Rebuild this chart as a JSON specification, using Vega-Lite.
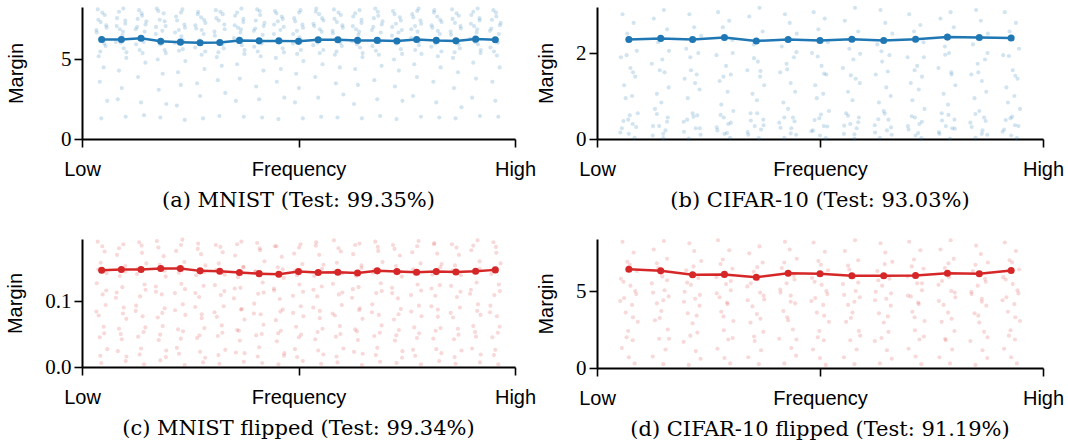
{
"$schema": "https://vega.github.io/schema/vega-lite/v6.json",
"background": "white",
"padding": 5,
"config": {
  "view": {"stroke": null},
  "axis": {"domainColor": "black", "domainWidth": 2, "tickColor": "black", "tickWidth": 1.6, "grid": false, "labelColor": "black", "titleColor": "black"},
  "axisX": {"labelFont": "Liberation Sans", "labelFontSize": 20, "tickSize": 8, "labelPadding": 12, "labelFlush": false},
  "axisY": {"labelFont": "Liberation Serif", "labelFontSize": 21, "tickSize": 8, "labelPadding": 3, "titleFont": "Liberation Sans", "titleFontSize": 20, "titleFontWeight": "normal", "titlePadding": 19},
  "title": {"orient": "bottom", "font": "DejaVu Serif", "fontSize": 21, "fontWeight": "normal", "frame": "group", "anchor": "middle", "offset": 11, "color": "black"}
},
"datasets": {
"a": [
{"x":0.8,"y":8.15},{"x":1.15,"y":7.8},{"x":0.95,"y":7.35},{"x":1.25,"y":7.0},{"x":0.75,"y":6.7},{"x":1.05,"y":6.25},{"x":1.2,"y":5.85},{"x":0.85,"y":5.2},{"x":1.1,"y":4.5},{"x":0.9,"y":3.6},{"x":1.28,"y":2.4},{"x":0.98,"y":1.3},
{"x":2.1,"y":8.2},{"x":1.78,"y":7.6},{"x":2.2,"y":7.25},{"x":1.92,"y":6.9},{"x":2.05,"y":6.5},{"x":1.72,"y":6.1},{"x":2.12,"y":5.7},{"x":2.25,"y":5.1},{"x":1.88,"y":4.3},{"x":2.02,"y":3.2},{"x":1.82,"y":2.5},{"x":2.22,"y":1.4},
{"x":2.9,"y":8.1},{"x":3.05,"y":7.75},{"x":3.27,"y":7.4},{"x":2.8,"y":7.05},{"x":3.18,"y":6.75},{"x":2.95,"y":6.3},{"x":2.75,"y":5.95},{"x":3.08,"y":5.4},{"x":3.22,"y":4.8},{"x":2.85,"y":3.9},{"x":3.0,"y":2.3},{"x":3.15,"y":1.5},
{"x":3.8,"y":8.2},{"x":4.15,"y":7.9},{"x":3.95,"y":7.5},{"x":4.25,"y":7.1},{"x":3.75,"y":6.6},{"x":4.05,"y":6.0},{"x":4.2,"y":5.6},{"x":3.85,"y":5.0},{"x":4.1,"y":4.1},{"x":3.9,"y":3.1},{"x":4.28,"y":2.2},{"x":3.98,"y":1.35},
{"x":5.1,"y":8.15},{"x":4.78,"y":7.7},{"x":5.2,"y":7.2},{"x":4.92,"y":6.85},{"x":5.05,"y":6.45},{"x":4.72,"y":6.05},{"x":5.12,"y":5.65},{"x":5.25,"y":4.9},{"x":4.88,"y":4.2},{"x":5.02,"y":3.4},{"x":4.82,"y":2.1},{"x":5.22,"y":1.2},
{"x":5.9,"y":8.0},{"x":6.05,"y":7.65},{"x":6.27,"y":7.3},{"x":5.8,"y":6.95},{"x":6.18,"y":6.6},{"x":5.95,"y":6.2},{"x":5.75,"y":5.75},{"x":6.08,"y":5.3},{"x":6.22,"y":4.4},{"x":5.85,"y":3.5},{"x":6.0,"y":2.7},{"x":6.15,"y":1.3},
{"x":6.8,"y":8.1},{"x":7.15,"y":7.85},{"x":6.95,"y":7.45},{"x":7.25,"y":6.9},{"x":6.75,"y":6.5},{"x":7.05,"y":6.15},{"x":7.2,"y":5.7},{"x":6.85,"y":5.15},{"x":7.1,"y":4.6},{"x":6.9,"y":3.7},{"x":7.28,"y":2.9},{"x":6.98,"y":1.45},
{"x":8.1,"y":8.2},{"x":7.78,"y":7.75},{"x":8.2,"y":7.35},{"x":7.92,"y":7.0},{"x":8.05,"y":6.7},{"x":7.72,"y":6.35},{"x":8.12,"y":5.9},{"x":8.25,"y":5.35},{"x":7.88,"y":4.7},{"x":8.02,"y":3.8},{"x":7.82,"y":2.4},{"x":8.22,"y":1.4},
{"x":8.9,"y":8.15},{"x":9.05,"y":7.8},{"x":9.27,"y":7.3},{"x":8.8,"y":6.95},{"x":9.18,"y":6.55},{"x":8.95,"y":6.2},{"x":8.75,"y":5.8},{"x":9.08,"y":5.2},{"x":9.22,"y":4.3},{"x":8.85,"y":3.3},{"x":9.0,"y":2.5},{"x":9.15,"y":1.35},
{"x":9.8,"y":8.05},{"x":10.15,"y":7.7},{"x":9.95,"y":7.4},{"x":10.25,"y":7.05},{"x":9.75,"y":6.6},{"x":10.05,"y":6.1},{"x":10.2,"y":5.7},{"x":9.85,"y":5.1},{"x":10.1,"y":4.4},{"x":9.9,"y":3.6},{"x":10.28,"y":2.6},{"x":9.98,"y":1.25},
{"x":11.1,"y":8.1},{"x":10.78,"y":7.6},{"x":11.2,"y":7.2},{"x":10.92,"y":6.8},{"x":11.05,"y":6.4},{"x":10.72,"y":6.0},{"x":11.12,"y":5.6},{"x":11.25,"y":4.9},{"x":10.88,"y":4.1},{"x":11.02,"y":3.2},{"x":10.82,"y":2.3},{"x":11.22,"y":1.3},
{"x":11.9,"y":8.2},{"x":12.05,"y":7.85},{"x":12.27,"y":7.45},{"x":11.8,"y":7.1},{"x":12.18,"y":6.75},{"x":11.95,"y":6.3},{"x":11.75,"y":5.9},{"x":12.08,"y":5.4},{"x":12.22,"y":4.7},{"x":11.85,"y":3.9},{"x":12.0,"y":2.6},{"x":12.15,"y":1.4},
{"x":12.8,"y":8.15},{"x":13.15,"y":7.8},{"x":12.95,"y":7.35},{"x":13.25,"y":7.0},{"x":12.75,"y":6.65},{"x":13.05,"y":6.25},{"x":13.2,"y":5.85},{"x":12.85,"y":5.3},{"x":13.1,"y":4.5},{"x":12.9,"y":3.5},{"x":13.28,"y":2.8},{"x":12.98,"y":1.35},
{"x":14.1,"y":8.1},{"x":13.78,"y":7.7},{"x":14.2,"y":7.3},{"x":13.92,"y":6.9},{"x":14.05,"y":6.55},{"x":13.72,"y":6.15},{"x":14.12,"y":5.75},{"x":14.25,"y":5.15},{"x":13.88,"y":4.4},{"x":14.02,"y":3.4},{"x":13.82,"y":2.2},{"x":14.22,"y":1.3},
{"x":14.9,"y":8.2},{"x":15.05,"y":7.75},{"x":15.27,"y":7.4},{"x":14.8,"y":7.05},{"x":15.18,"y":6.7},{"x":14.95,"y":6.3},{"x":14.75,"y":5.85},{"x":15.08,"y":5.3},{"x":15.22,"y":4.6},{"x":14.85,"y":3.7},{"x":15.0,"y":2.5},{"x":15.15,"y":1.45},
{"x":15.8,"y":8.05},{"x":16.15,"y":7.65},{"x":15.95,"y":7.25},{"x":16.25,"y":6.85},{"x":15.75,"y":6.5},{"x":16.05,"y":6.1},{"x":16.2,"y":5.65},{"x":15.85,"y":5.0},{"x":16.1,"y":4.3},{"x":15.9,"y":3.3},{"x":16.28,"y":2.4},{"x":15.98,"y":1.25},
{"x":17.1,"y":8.2},{"x":16.78,"y":7.85},{"x":17.2,"y":7.45},{"x":16.92,"y":7.1},{"x":17.05,"y":6.75},{"x":16.72,"y":6.35},{"x":17.12,"y":5.9},{"x":17.25,"y":5.35},{"x":16.88,"y":4.7},{"x":17.02,"y":3.9},{"x":16.82,"y":2.7},{"x":17.22,"y":1.4},
{"x":17.9,"y":8.1},{"x":18.05,"y":7.7},{"x":18.27,"y":7.35},{"x":17.8,"y":7.0},{"x":18.18,"y":6.6},{"x":17.95,"y":6.2},{"x":17.75,"y":5.8},{"x":18.08,"y":5.2},{"x":18.22,"y":4.5},{"x":17.85,"y":3.6},{"x":18.0,"y":2.3},{"x":18.15,"y":1.35},
{"x":18.8,"y":8.15},{"x":19.15,"y":7.75},{"x":18.95,"y":7.3},{"x":19.25,"y":6.95},{"x":18.75,"y":6.55},{"x":19.05,"y":6.15},{"x":19.2,"y":5.7},{"x":18.85,"y":5.1},{"x":19.1,"y":4.2},{"x":18.9,"y":3.2},{"x":19.28,"y":2.0},{"x":18.98,"y":1.3},
{"x":20.1,"y":8.2},{"x":19.78,"y":7.8},{"x":20.2,"y":7.45},{"x":19.92,"y":7.1},{"x":20.05,"y":6.7},{"x":19.72,"y":6.3},{"x":20.12,"y":5.95},{"x":20.25,"y":5.4},{"x":19.88,"y":4.8},{"x":20.02,"y":3.8},{"x":19.82,"y":2.6},{"x":20.22,"y":1.45},
{"x":20.9,"y":8.1},{"x":21.05,"y":7.7},{"x":21.27,"y":7.3},{"x":20.8,"y":6.95},{"x":21.18,"y":6.6},{"x":20.95,"y":6.2},{"x":20.75,"y":5.75},{"x":21.08,"y":5.25},{"x":21.22,"y":4.5},{"x":20.85,"y":3.6},{"x":21.0,"y":2.4},{"x":21.15,"y":1.4},
{"x":1.03,"y":7.95},{"x":0.83,"y":7.5},{"x":1.23,"y":7.15},{"x":0.73,"y":6.85},{"x":1.13,"y":6.0},{"x":0.93,"y":5.5},
{"x":1.88,"y":8.0},{"x":2.2,"y":7.45},{"x":1.76,"y":7.1},{"x":2.08,"y":6.75},{"x":1.97,"y":6.05},{"x":2.26,"y":5.45},
{"x":3.03,"y":7.9},{"x":2.83,"y":7.55},{"x":3.23,"y":7.2},{"x":2.73,"y":6.9},{"x":3.13,"y":6.1},{"x":2.93,"y":5.6},
{"x":3.88,"y":8.05},{"x":4.2,"y":7.4},{"x":3.76,"y":7.05},{"x":4.08,"y":6.8},{"x":3.97,"y":5.95},{"x":4.26,"y":5.4},
{"x":5.03,"y":7.95},{"x":4.83,"y":7.45},{"x":5.23,"y":7.0},{"x":4.73,"y":6.7},{"x":5.13,"y":6.2},{"x":4.93,"y":5.55},
{"x":5.88,"y":7.85},{"x":6.2,"y":7.5},{"x":5.76,"y":7.15},{"x":6.08,"y":6.85},{"x":5.97,"y":6.05},{"x":6.26,"y":5.5},
{"x":7.03,"y":8.0},{"x":6.83,"y":7.6},{"x":7.23,"y":7.2},{"x":6.73,"y":6.75},{"x":7.13,"y":5.95},{"x":6.93,"y":5.45},
{"x":7.88,"y":7.95},{"x":8.2,"y":7.55},{"x":7.76,"y":7.15},{"x":8.08,"y":6.9},{"x":7.97,"y":6.1},{"x":8.26,"y":5.6},
{"x":9.03,"y":8.05},{"x":8.83,"y":7.45},{"x":9.23,"y":7.1},{"x":8.73,"y":6.8},{"x":9.13,"y":6.0},{"x":8.93,"y":5.5},
{"x":9.88,"y":7.9},{"x":10.2,"y":7.55},{"x":9.76,"y":7.2},{"x":10.08,"y":6.85},{"x":9.97,"y":6.15},{"x":10.26,"y":5.45},
{"x":11.03,"y":7.95},{"x":10.83,"y":7.4},{"x":11.23,"y":7.0},{"x":10.73,"y":6.6},{"x":11.13,"y":6.2},{"x":10.93,"y":5.35},
{"x":11.88,"y":8.0},{"x":12.2,"y":7.6},{"x":11.76,"y":7.25},{"x":12.08,"y":6.9},{"x":11.97,"y":6.05},{"x":12.26,"y":5.6},
{"x":13.03,"y":7.95},{"x":12.83,"y":7.55},{"x":13.23,"y":7.15},{"x":12.73,"y":6.8},{"x":13.13,"y":6.05},{"x":12.93,"y":5.5},
{"x":13.88,"y":7.9},{"x":14.2,"y":7.5},{"x":13.76,"y":7.1},{"x":14.08,"y":6.75},{"x":13.97,"y":5.95},{"x":14.26,"y":5.4},
{"x":15.03,"y":8.0},{"x":14.83,"y":7.6},{"x":15.23,"y":7.2},{"x":14.73,"y":6.85},{"x":15.13,"y":6.1},{"x":14.93,"y":5.55},
{"x":15.88,"y":7.85},{"x":16.2,"y":7.45},{"x":15.76,"y":7.05},{"x":16.08,"y":6.7},{"x":15.97,"y":6.0},{"x":16.26,"y":5.35},
{"x":17.03,"y":8.05},{"x":16.83,"y":7.65},{"x":17.23,"y":7.25},{"x":16.73,"y":6.9},{"x":17.13,"y":6.15},{"x":16.93,"y":5.6},
{"x":17.88,"y":7.95},{"x":18.2,"y":7.5},{"x":17.76,"y":7.15},{"x":18.08,"y":6.8},{"x":17.97,"y":6.0},{"x":18.26,"y":5.5},
{"x":19.03,"y":7.9},{"x":18.83,"y":7.55},{"x":19.23,"y":7.1},{"x":18.73,"y":6.75},{"x":19.13,"y":5.95},{"x":18.93,"y":5.45},
{"x":19.88,"y":8.0},{"x":20.2,"y":7.6},{"x":19.76,"y":7.25},{"x":20.08,"y":6.9},{"x":19.97,"y":6.1},{"x":20.26,"y":5.6},
{"x":21.03,"y":7.95},{"x":20.83,"y":7.5},{"x":21.23,"y":7.15},{"x":20.73,"y":6.8},{"x":21.13,"y":6.05},{"x":20.93,"y":5.5}
],
"b": [
{"x":0.8,"y":2.9},{"x":1.15,"y":2.7},{"x":0.95,"y":2.45},{"x":1.25,"y":2.05},{"x":0.75,"y":1.9},{"x":1.05,"y":1.65},{"x":1.2,"y":1.45},{"x":0.85,"y":1.25},{"x":1.1,"y":1.0},{"x":0.9,"y":0.95},{"x":1.28,"y":0.6},{"x":0.98,"y":0.45},{"x":1.12,"y":0.35},{"x":0.78,"y":0.25},{"x":1.0,"y":0.12},{"x":1.18,"y":0.03},
{"x":2.1,"y":3.0},{"x":1.78,"y":2.8},{"x":2.2,"y":2.55},{"x":1.92,"y":2.25},{"x":2.05,"y":1.85},{"x":1.72,"y":1.75},{"x":2.12,"y":1.55},{"x":2.25,"y":1.2},{"x":1.88,"y":1.05},{"x":2.02,"y":0.85},{"x":1.82,"y":0.7},{"x":2.22,"y":0.5},{"x":1.95,"y":0.3},{"x":2.15,"y":0.2},{"x":1.75,"y":0.08},{"x":2.08,"y":0.02},
{"x":2.9,"y":2.9},{"x":3.05,"y":2.6},{"x":3.27,"y":2.4},{"x":2.8,"y":2.1},{"x":3.18,"y":2.0},{"x":2.95,"y":1.6},{"x":2.75,"y":1.4},{"x":3.08,"y":1.3},{"x":3.22,"y":1.15},{"x":2.85,"y":0.95},{"x":3.0,"y":0.6},{"x":3.15,"y":0.55},{"x":2.72,"y":0.4},{"x":3.1,"y":0.25},{"x":3.25,"y":0.1},{"x":2.88,"y":0.01},
{"x":3.8,"y":2.95},{"x":4.15,"y":2.75},{"x":3.95,"y":2.6},{"x":4.25,"y":2.3},{"x":3.75,"y":1.95},{"x":4.05,"y":1.7},{"x":4.2,"y":1.5},{"x":3.85,"y":1.35},{"x":4.1,"y":1.1},{"x":3.9,"y":0.8},{"x":4.28,"y":0.65},{"x":3.98,"y":0.5},{"x":4.12,"y":0.35},{"x":3.78,"y":0.2},{"x":4.0,"y":0.12},{"x":4.18,"y":0.03},
{"x":5.1,"y":3.05},{"x":4.78,"y":2.85},{"x":5.2,"y":2.5},{"x":4.92,"y":2.2},{"x":5.05,"y":1.8},{"x":4.72,"y":1.6},{"x":5.12,"y":1.45},{"x":5.25,"y":1.25},{"x":4.88,"y":1.05},{"x":5.02,"y":0.9},{"x":4.82,"y":0.6},{"x":5.22,"y":0.45},{"x":4.95,"y":0.3},{"x":5.15,"y":0.22},{"x":4.75,"y":0.1},{"x":5.08,"y":0.02},
{"x":5.9,"y":2.9},{"x":6.05,"y":2.7},{"x":6.27,"y":2.45},{"x":5.8,"y":2.15},{"x":6.18,"y":1.9},{"x":5.95,"y":1.75},{"x":5.75,"y":1.55},{"x":6.08,"y":1.3},{"x":6.22,"y":1.1},{"x":5.85,"y":0.85},{"x":6.0,"y":0.7},{"x":6.15,"y":0.5},{"x":5.72,"y":0.38},{"x":6.1,"y":0.25},{"x":6.25,"y":0.1},{"x":5.88,"y":0.03},
{"x":6.8,"y":2.95},{"x":7.15,"y":2.8},{"x":6.95,"y":2.55},{"x":7.25,"y":2.25},{"x":6.75,"y":2.0},{"x":7.05,"y":1.7},{"x":7.2,"y":1.5},{"x":6.85,"y":1.25},{"x":7.1,"y":1.05},{"x":6.9,"y":0.95},{"x":7.28,"y":0.65},{"x":6.98,"y":0.48},{"x":7.12,"y":0.3},{"x":6.78,"y":0.2},{"x":7.0,"y":0.08},{"x":7.18,"y":0.02},
{"x":8.1,"y":3.05},{"x":7.78,"y":2.75},{"x":8.2,"y":2.5},{"x":7.92,"y":2.1},{"x":8.05,"y":1.85},{"x":7.72,"y":1.65},{"x":8.12,"y":1.4},{"x":8.25,"y":1.3},{"x":7.88,"y":1.1},{"x":8.02,"y":0.9},{"x":7.82,"y":0.6},{"x":8.22,"y":0.5},{"x":7.95,"y":0.35},{"x":8.15,"y":0.25},{"x":7.75,"y":0.12},{"x":8.08,"y":0.01},
{"x":8.9,"y":3.0},{"x":9.05,"y":2.7},{"x":9.27,"y":2.45},{"x":8.8,"y":2.2},{"x":9.18,"y":1.95},{"x":8.95,"y":1.8},{"x":8.75,"y":1.5},{"x":9.08,"y":1.2},{"x":9.22,"y":1.0},{"x":8.85,"y":0.85},{"x":9.0,"y":0.65},{"x":9.15,"y":0.45},{"x":8.72,"y":0.32},{"x":9.1,"y":0.2},{"x":9.25,"y":0.1},{"x":8.88,"y":0.03},
{"x":9.8,"y":2.9},{"x":10.15,"y":2.65},{"x":9.95,"y":2.5},{"x":10.25,"y":2.25},{"x":9.75,"y":1.9},{"x":10.05,"y":1.7},{"x":10.2,"y":1.45},{"x":9.85,"y":1.3},{"x":10.1,"y":1.15},{"x":9.9,"y":0.9},{"x":10.28,"y":0.7},{"x":9.98,"y":0.5},{"x":10.12,"y":0.35},{"x":9.78,"y":0.22},{"x":10.0,"y":0.08},{"x":10.18,"y":0.02},
{"x":11.1,"y":2.95},{"x":10.78,"y":2.8},{"x":11.2,"y":2.6},{"x":10.92,"y":2.15},{"x":11.05,"y":2.0},{"x":10.72,"y":1.65},{"x":11.12,"y":1.55},{"x":11.25,"y":1.25},{"x":10.88,"y":1.05},{"x":11.02,"y":0.8},{"x":10.82,"y":0.6},{"x":11.22,"y":0.45},{"x":10.95,"y":0.3},{"x":11.15,"y":0.25},{"x":10.75,"y":0.12},{"x":11.08,"y":0.01},
{"x":11.9,"y":3.0},{"x":12.05,"y":2.75},{"x":12.27,"y":2.45},{"x":11.8,"y":2.2},{"x":12.18,"y":1.85},{"x":11.95,"y":1.75},{"x":11.75,"y":1.5},{"x":12.08,"y":1.35},{"x":12.22,"y":1.1},{"x":11.85,"y":0.95},{"x":12.0,"y":0.65},{"x":12.15,"y":0.5},{"x":11.72,"y":0.38},{"x":12.1,"y":0.2},{"x":12.25,"y":0.1},{"x":11.88,"y":0.03},
{"x":12.8,"y":2.95},{"x":13.15,"y":2.7},{"x":12.95,"y":2.5},{"x":13.25,"y":2.1},{"x":12.75,"y":1.95},{"x":13.05,"y":1.6},{"x":13.2,"y":1.4},{"x":12.85,"y":1.2},{"x":13.1,"y":1.0},{"x":12.9,"y":0.85},{"x":13.28,"y":0.7},{"x":12.98,"y":0.48},{"x":13.12,"y":0.32},{"x":12.78,"y":0.22},{"x":13.0,"y":0.08},{"x":13.18,"y":0.02},
{"x":1.03,"y":0.55},{"x":0.83,"y":0.42},{"x":1.23,"y":0.28},{"x":0.73,"y":0.15},{"x":1.13,"y":1.55},{"x":0.93,"y":1.95},
{"x":1.88,"y":0.58},{"x":2.2,"y":0.4},{"x":1.76,"y":0.3},{"x":2.08,"y":0.12},{"x":1.97,"y":1.6},{"x":2.26,"y":2.05},
{"x":3.03,"y":0.52},{"x":2.83,"y":0.45},{"x":3.23,"y":0.25},{"x":2.73,"y":0.17},{"x":3.13,"y":1.5},{"x":2.93,"y":1.9},
{"x":3.88,"y":0.56},{"x":4.2,"y":0.38},{"x":3.76,"y":0.27},{"x":4.08,"y":0.14},{"x":3.97,"y":1.45},{"x":4.26,"y":2.0},
{"x":5.03,"y":0.6},{"x":4.83,"y":0.43},{"x":5.23,"y":0.32},{"x":4.73,"y":0.16},{"x":5.13,"y":1.58},{"x":4.93,"y":1.88},
{"x":5.88,"y":0.5},{"x":6.2,"y":0.41},{"x":5.76,"y":0.26},{"x":6.08,"y":0.13},{"x":5.97,"y":1.62},{"x":6.26,"y":2.02},
{"x":7.03,"y":0.57},{"x":6.83,"y":0.44},{"x":7.23,"y":0.29},{"x":6.73,"y":0.18},{"x":7.13,"y":1.52},{"x":6.93,"y":1.92},
{"x":7.88,"y":0.54},{"x":8.2,"y":0.39},{"x":7.76,"y":0.31},{"x":8.08,"y":0.11},{"x":7.97,"y":1.48},{"x":8.26,"y":1.98},
{"x":9.03,"y":0.59},{"x":8.83,"y":0.46},{"x":9.23,"y":0.27},{"x":8.73,"y":0.15},{"x":9.13,"y":1.57},{"x":8.93,"y":2.04},
{"x":9.88,"y":0.53},{"x":10.2,"y":0.4},{"x":9.76,"y":0.3},{"x":10.08,"y":0.14},{"x":9.97,"y":1.6},{"x":10.26,"y":1.9},
{"x":11.03,"y":0.56},{"x":10.83,"y":0.43},{"x":11.23,"y":0.24},{"x":10.73,"y":0.16},{"x":11.13,"y":1.5},{"x":10.93,"y":1.96},
{"x":11.88,"y":0.58},{"x":12.2,"y":0.42},{"x":11.76,"y":0.28},{"x":12.08,"y":0.12},{"x":11.97,"y":1.55},{"x":12.26,"y":2.0},
{"x":13.03,"y":0.52},{"x":12.83,"y":0.44},{"x":13.23,"y":0.3},{"x":12.73,"y":0.17},{"x":13.13,"y":1.47},{"x":12.93,"y":1.93}
],
"c": [
{"x":0.8,"y":0.19},{"x":1.15,"y":0.175},{"x":0.95,"y":0.158},{"x":1.25,"y":0.142},{"x":0.75,"y":0.127},{"x":1.05,"y":0.11},{"x":1.2,"y":0.094},{"x":0.85,"y":0.078},{"x":1.1,"y":0.061},{"x":0.9,"y":0.045},{"x":1.28,"y":0.027},{"x":0.98,"y":0.006},
{"x":2.1,"y":0.186},{"x":1.78,"y":0.17},{"x":2.2,"y":0.153},{"x":1.92,"y":0.138},{"x":2.05,"y":0.121},{"x":1.72,"y":0.105},{"x":2.12,"y":0.09},{"x":2.25,"y":0.073},{"x":1.88,"y":0.058},{"x":2.02,"y":0.042},{"x":1.82,"y":0.024},{"x":2.22,"y":0.009},
{"x":2.9,"y":0.189},{"x":3.05,"y":0.173},{"x":3.27,"y":0.157},{"x":2.8,"y":0.141},{"x":3.18,"y":0.125},{"x":2.95,"y":0.107},{"x":2.75,"y":0.093},{"x":3.08,"y":0.077},{"x":3.22,"y":0.06},{"x":2.85,"y":0.046},{"x":3.0,"y":0.028},{"x":3.15,"y":0.004},
{"x":3.8,"y":0.191},{"x":4.15,"y":0.168},{"x":3.95,"y":0.155},{"x":4.25,"y":0.137},{"x":3.75,"y":0.122},{"x":4.05,"y":0.11},{"x":4.2,"y":0.089},{"x":3.85,"y":0.075},{"x":4.1,"y":0.062},{"x":3.9,"y":0.041},{"x":4.28,"y":0.025},{"x":3.98,"y":0.01},
{"x":5.1,"y":0.193},{"x":4.78,"y":0.176},{"x":5.2,"y":0.159},{"x":4.92,"y":0.143},{"x":5.05,"y":0.126},{"x":4.72,"y":0.112},{"x":5.12,"y":0.095},{"x":5.25,"y":0.079},{"x":4.88,"y":0.057},{"x":5.02,"y":0.043},{"x":4.82,"y":0.029},{"x":5.22,"y":0.003},
{"x":5.9,"y":0.187},{"x":6.05,"y":0.171},{"x":6.27,"y":0.154},{"x":5.8,"y":0.139},{"x":6.18,"y":0.123},{"x":5.95,"y":0.106},{"x":5.75,"y":0.091},{"x":6.08,"y":0.074},{"x":6.22,"y":0.059},{"x":5.85,"y":0.044},{"x":6.0,"y":0.023},{"x":6.15,"y":0.007},
{"x":6.8,"y":0.185},{"x":7.15,"y":0.174},{"x":6.95,"y":0.157},{"x":7.25,"y":0.14},{"x":6.75,"y":0.124},{"x":7.05,"y":0.109},{"x":7.2,"y":0.092},{"x":6.85,"y":0.076},{"x":7.1,"y":0.063},{"x":6.9,"y":0.047},{"x":7.28,"y":0.026},{"x":6.98,"y":0.005},
{"x":8.1,"y":0.19},{"x":7.78,"y":0.169},{"x":8.2,"y":0.152},{"x":7.92,"y":0.136},{"x":8.05,"y":0.12},{"x":7.72,"y":0.104},{"x":8.12,"y":0.088},{"x":8.25,"y":0.072},{"x":7.88,"y":0.056},{"x":8.02,"y":0.04},{"x":7.82,"y":0.022},{"x":8.22,"y":0.008},
{"x":8.9,"y":0.188},{"x":9.05,"y":0.177},{"x":9.27,"y":0.16},{"x":8.8,"y":0.144},{"x":9.18,"y":0.128},{"x":8.95,"y":0.111},{"x":8.75,"y":0.096},{"x":9.08,"y":0.08},{"x":9.22,"y":0.064},{"x":8.85,"y":0.048},{"x":9.0,"y":0.03},{"x":9.15,"y":0.006},
{"x":9.8,"y":0.183},{"x":10.15,"y":0.167},{"x":9.95,"y":0.151},{"x":10.25,"y":0.135},{"x":9.75,"y":0.119},{"x":10.05,"y":0.103},{"x":10.2,"y":0.087},{"x":9.85,"y":0.071},{"x":10.1,"y":0.055},{"x":9.9,"y":0.039},{"x":10.28,"y":0.021},{"x":9.98,"y":0.004},
{"x":11.1,"y":0.186},{"x":10.78,"y":0.172},{"x":11.2,"y":0.156},{"x":10.92,"y":0.139},{"x":11.05,"y":0.125},{"x":10.72,"y":0.108},{"x":11.12,"y":0.092},{"x":11.25,"y":0.077},{"x":10.88,"y":0.061},{"x":11.02,"y":0.045},{"x":10.82,"y":0.027},{"x":11.22,"y":0.009},
{"x":11.9,"y":0.189},{"x":12.05,"y":0.17},{"x":12.27,"y":0.155},{"x":11.8,"y":0.138},{"x":12.18,"y":0.122},{"x":11.95,"y":0.107},{"x":11.75,"y":0.09},{"x":12.08,"y":0.074},{"x":12.22,"y":0.058},{"x":11.85,"y":0.042},{"x":12.0,"y":0.025},{"x":12.15,"y":0.005},
{"x":12.8,"y":0.192},{"x":13.15,"y":0.175},{"x":12.95,"y":0.158},{"x":13.25,"y":0.142},{"x":12.75,"y":0.126},{"x":13.05,"y":0.11},{"x":13.2,"y":0.094},{"x":12.85,"y":0.078},{"x":13.1,"y":0.062},{"x":12.9,"y":0.046},{"x":13.28,"y":0.028},{"x":12.98,"y":0.007},
{"x":14.1,"y":0.187},{"x":13.78,"y":0.171},{"x":14.2,"y":0.154},{"x":13.92,"y":0.138},{"x":14.05,"y":0.121},{"x":13.72,"y":0.105},{"x":14.12,"y":0.089},{"x":14.25,"y":0.073},{"x":13.88,"y":0.057},{"x":14.02,"y":0.041},{"x":13.82,"y":0.023},{"x":14.22,"y":0.003},
{"x":14.9,"y":0.19},{"x":15.05,"y":0.176},{"x":15.27,"y":0.159},{"x":14.8,"y":0.143},{"x":15.18,"y":0.127},{"x":14.95,"y":0.112},{"x":14.75,"y":0.095},{"x":15.08,"y":0.079},{"x":15.22,"y":0.063},{"x":14.85,"y":0.047},{"x":15.0,"y":0.029},{"x":15.15,"y":0.008},
{"x":15.8,"y":0.185},{"x":16.15,"y":0.169},{"x":15.95,"y":0.153},{"x":16.25,"y":0.137},{"x":15.75,"y":0.12},{"x":16.05,"y":0.104},{"x":16.2,"y":0.088},{"x":15.85,"y":0.072},{"x":16.1,"y":0.056},{"x":15.9,"y":0.04},{"x":16.28,"y":0.024},{"x":15.98,"y":0.006},
{"x":17.1,"y":0.191},{"x":16.78,"y":0.174},{"x":17.2,"y":0.157},{"x":16.92,"y":0.141},{"x":17.05,"y":0.125},{"x":16.72,"y":0.109},{"x":17.12,"y":0.093},{"x":17.25,"y":0.077},{"x":16.88,"y":0.06},{"x":17.02,"y":0.044},{"x":16.82,"y":0.026},{"x":17.22,"y":0.004},
{"x":17.9,"y":0.188},{"x":18.05,"y":0.172},{"x":18.27,"y":0.156},{"x":17.8,"y":0.14},{"x":18.18,"y":0.124},{"x":17.95,"y":0.108},{"x":17.75,"y":0.092},{"x":18.08,"y":0.076},{"x":18.22,"y":0.059},{"x":17.85,"y":0.043},{"x":18.0,"y":0.027},{"x":18.15,"y":0.009},
{"x":18.8,"y":0.186},{"x":19.15,"y":0.17},{"x":18.95,"y":0.154},{"x":19.25,"y":0.139},{"x":18.75,"y":0.123},{"x":19.05,"y":0.106},{"x":19.2,"y":0.09},{"x":18.85,"y":0.075},{"x":19.1,"y":0.058},{"x":18.9,"y":0.042},{"x":19.28,"y":0.025},{"x":18.98,"y":0.005},
{"x":20.1,"y":0.192},{"x":19.78,"y":0.177},{"x":20.2,"y":0.16},{"x":19.92,"y":0.144},{"x":20.05,"y":0.128},{"x":19.72,"y":0.111},{"x":20.12,"y":0.095},{"x":20.25,"y":0.079},{"x":19.88,"y":0.062},{"x":20.02,"y":0.046},{"x":19.82,"y":0.028},{"x":20.22,"y":0.007},
{"x":20.9,"y":0.189},{"x":21.05,"y":0.173},{"x":21.27,"y":0.157},{"x":20.8,"y":0.141},{"x":21.18,"y":0.125},{"x":20.95,"y":0.109},{"x":20.75,"y":0.093},{"x":21.08,"y":0.077},{"x":21.22,"y":0.061},{"x":20.85,"y":0.045},{"x":21.0,"y":0.026},{"x":21.15,"y":0.004},
{"x":1.03,"y":0.183},{"x":0.83,"y":0.148},{"x":1.23,"y":0.116},{"x":0.73,"y":0.084},{"x":1.13,"y":0.051},{"x":0.93,"y":0.017},
{"x":1.88,"y":0.18},{"x":2.2,"y":0.145},{"x":1.76,"y":0.113},{"x":2.08,"y":0.081},{"x":1.97,"y":0.05},{"x":2.26,"y":0.016},
{"x":3.03,"y":0.184},{"x":2.83,"y":0.149},{"x":3.23,"y":0.117},{"x":2.73,"y":0.085},{"x":3.13,"y":0.053},{"x":2.93,"y":0.019},
{"x":3.88,"y":0.181},{"x":4.2,"y":0.146},{"x":3.76,"y":0.114},{"x":4.08,"y":0.082},{"x":3.97,"y":0.049},{"x":4.26,"y":0.015},
{"x":5.03,"y":0.185},{"x":4.83,"y":0.15},{"x":5.23,"y":0.118},{"x":4.73,"y":0.086},{"x":5.13,"y":0.054},{"x":4.93,"y":0.02},
{"x":5.88,"y":0.179},{"x":6.2,"y":0.144},{"x":5.76,"y":0.112},{"x":6.08,"y":0.08},{"x":5.97,"y":0.048},{"x":6.26,"y":0.014},
{"x":7.03,"y":0.182},{"x":6.83,"y":0.147},{"x":7.23,"y":0.115},{"x":6.73,"y":0.083},{"x":7.13,"y":0.052},{"x":6.93,"y":0.018},
{"x":7.88,"y":0.186},{"x":8.2,"y":0.151},{"x":7.76,"y":0.119},{"x":8.08,"y":0.087},{"x":7.97,"y":0.055},{"x":8.26,"y":0.021},
{"x":9.03,"y":0.18},{"x":8.83,"y":0.145},{"x":9.23,"y":0.113},{"x":8.73,"y":0.081},{"x":9.13,"y":0.05},{"x":8.93,"y":0.016},
{"x":9.88,"y":0.183},{"x":10.2,"y":0.148},{"x":9.76,"y":0.116},{"x":10.08,"y":0.084},{"x":9.97,"y":0.051},{"x":10.26,"y":0.017},
{"x":11.03,"y":0.181},{"x":10.83,"y":0.146},{"x":11.23,"y":0.114},{"x":10.73,"y":0.082},{"x":11.13,"y":0.049},{"x":10.93,"y":0.015},
{"x":11.88,"y":0.184},{"x":12.2,"y":0.149},{"x":11.76,"y":0.117},{"x":12.08,"y":0.085},{"x":11.97,"y":0.053},{"x":12.26,"y":0.019},
{"x":13.03,"y":0.18},{"x":12.83,"y":0.145},{"x":13.23,"y":0.113},{"x":12.73,"y":0.081},{"x":13.13,"y":0.05},{"x":12.93,"y":0.016},
{"x":13.88,"y":0.185},{"x":14.2,"y":0.15},{"x":13.76,"y":0.118},{"x":14.08,"y":0.086},{"x":13.97,"y":0.054},{"x":14.26,"y":0.02},
{"x":15.03,"y":0.182},{"x":14.83,"y":0.147},{"x":15.23,"y":0.115},{"x":14.73,"y":0.083},{"x":15.13,"y":0.052},{"x":14.93,"y":0.018},
{"x":15.88,"y":0.179},{"x":16.2,"y":0.144},{"x":15.76,"y":0.112},{"x":16.08,"y":0.08},{"x":15.97,"y":0.048},{"x":16.26,"y":0.014},
{"x":17.03,"y":0.183},{"x":16.83,"y":0.148},{"x":17.23,"y":0.116},{"x":16.73,"y":0.084},{"x":17.13,"y":0.051},{"x":16.93,"y":0.017},
{"x":17.88,"y":0.186},{"x":18.2,"y":0.151},{"x":17.76,"y":0.119},{"x":18.08,"y":0.087},{"x":17.97,"y":0.055},{"x":18.26,"y":0.021},
{"x":19.03,"y":0.181},{"x":18.83,"y":0.146},{"x":19.23,"y":0.114},{"x":18.73,"y":0.082},{"x":19.13,"y":0.049},{"x":18.93,"y":0.015},
{"x":19.88,"y":0.184},{"x":20.2,"y":0.149},{"x":19.76,"y":0.117},{"x":20.08,"y":0.085},{"x":19.97,"y":0.053},{"x":20.26,"y":0.019},
{"x":21.03,"y":0.182},{"x":20.83,"y":0.147},{"x":21.23,"y":0.115},{"x":20.73,"y":0.083},{"x":21.13,"y":0.052},{"x":20.93,"y":0.018}
],
"d": [
{"x":0.8,"y":8.2},{"x":1.15,"y":7.5},{"x":0.95,"y":6.9},{"x":1.25,"y":6.3},{"x":0.75,"y":5.8},{"x":1.05,"y":5.35},{"x":1.2,"y":5.0},{"x":0.85,"y":4.55},{"x":1.1,"y":4.1},{"x":0.9,"y":3.6},{"x":1.28,"y":3.0},{"x":0.98,"y":2.4},{"x":1.12,"y":1.8},{"x":0.78,"y":1.3},{"x":1.0,"y":0.7},{"x":1.18,"y":0.3},
{"x":2.1,"y":8.25},{"x":1.78,"y":7.7},{"x":2.2,"y":7.1},{"x":1.92,"y":6.5},{"x":2.05,"y":5.95},{"x":1.72,"y":5.5},{"x":2.12,"y":5.05},{"x":2.25,"y":4.65},{"x":1.88,"y":4.2},{"x":2.02,"y":3.7},{"x":1.82,"y":3.1},{"x":2.22,"y":2.5},{"x":1.95,"y":1.9},{"x":2.15,"y":1.2},{"x":1.75,"y":0.75},{"x":2.08,"y":0.25},
{"x":2.9,"y":8.1},{"x":3.05,"y":7.6},{"x":3.27,"y":6.95},{"x":2.8,"y":6.35},{"x":3.18,"y":5.85},{"x":2.95,"y":5.4},{"x":2.75,"y":4.95},{"x":3.08,"y":4.5},{"x":3.22,"y":4.05},{"x":2.85,"y":3.55},{"x":3.0,"y":2.9},{"x":3.15,"y":2.3},{"x":2.72,"y":1.7},{"x":3.1,"y":1.1},{"x":3.25,"y":0.6},{"x":2.88,"y":0.2},
{"x":3.8,"y":8.3},{"x":4.15,"y":7.65},{"x":3.95,"y":7.05},{"x":4.25,"y":6.45},{"x":3.75,"y":5.9},{"x":4.05,"y":5.45},{"x":4.2,"y":5.05},{"x":3.85,"y":4.6},{"x":4.1,"y":4.15},{"x":3.9,"y":3.65},{"x":4.28,"y":3.05},{"x":3.98,"y":2.45},{"x":4.12,"y":1.85},{"x":3.78,"y":1.25},{"x":4.0,"y":0.65},{"x":4.18,"y":0.3},
{"x":5.1,"y":7.9},{"x":4.78,"y":7.45},{"x":5.2,"y":6.85},{"x":4.92,"y":6.25},{"x":5.05,"y":5.75},{"x":4.72,"y":5.3},{"x":5.12,"y":4.9},{"x":5.25,"y":4.45},{"x":4.88,"y":4.0},{"x":5.02,"y":3.5},{"x":4.82,"y":2.95},{"x":5.22,"y":2.35},{"x":4.95,"y":1.75},{"x":5.15,"y":1.15},{"x":4.75,"y":0.7},{"x":5.08,"y":0.25},
{"x":5.9,"y":8.2},{"x":6.05,"y":7.7},{"x":6.27,"y":7.1},{"x":5.8,"y":6.5},{"x":6.18,"y":6.0},{"x":5.95,"y":5.5},{"x":5.75,"y":5.1},{"x":6.08,"y":4.7},{"x":6.22,"y":4.2},{"x":5.85,"y":3.7},{"x":6.0,"y":3.1},{"x":6.15,"y":2.5},{"x":5.72,"y":1.9},{"x":6.1,"y":1.3},{"x":6.25,"y":0.8},{"x":5.88,"y":0.3},
{"x":6.8,"y":8.15},{"x":7.15,"y":7.55},{"x":6.95,"y":6.95},{"x":7.25,"y":6.35},{"x":6.75,"y":5.85},{"x":7.05,"y":5.4},{"x":7.2,"y":5.0},{"x":6.85,"y":4.55},{"x":7.1,"y":4.1},{"x":6.9,"y":3.6},{"x":7.28,"y":3.0},{"x":6.98,"y":2.4},{"x":7.12,"y":1.8},{"x":6.78,"y":1.2},{"x":7.0,"y":0.65},{"x":7.18,"y":0.2},
{"x":8.1,"y":8.3},{"x":7.78,"y":7.6},{"x":8.2,"y":7.0},{"x":7.92,"y":6.4},{"x":8.05,"y":5.9},{"x":7.72,"y":5.45},{"x":8.12,"y":5.0},{"x":8.25,"y":4.6},{"x":7.88,"y":4.1},{"x":8.02,"y":3.6},{"x":7.82,"y":3.0},{"x":8.22,"y":2.4},{"x":7.95,"y":1.8},{"x":8.15,"y":1.2},{"x":7.75,"y":0.7},{"x":8.08,"y":0.25},
{"x":8.9,"y":8.1},{"x":9.05,"y":7.5},{"x":9.27,"y":6.9},{"x":8.8,"y":6.3},{"x":9.18,"y":5.8},{"x":8.95,"y":5.35},{"x":8.75,"y":4.95},{"x":9.08,"y":4.5},{"x":9.22,"y":4.05},{"x":8.85,"y":3.55},{"x":9.0,"y":2.95},{"x":9.15,"y":2.35},{"x":8.72,"y":1.75},{"x":9.1,"y":1.15},{"x":9.25,"y":0.6},{"x":8.88,"y":0.3},
{"x":9.8,"y":8.2},{"x":10.15,"y":7.65},{"x":9.95,"y":7.05},{"x":10.25,"y":6.45},{"x":9.75,"y":5.95},{"x":10.05,"y":5.5},{"x":10.2,"y":5.05},{"x":9.85,"y":4.65},{"x":10.1,"y":4.15},{"x":9.9,"y":3.65},{"x":10.28,"y":3.05},{"x":9.98,"y":2.45},{"x":10.12,"y":1.85},{"x":9.78,"y":1.25},{"x":10.0,"y":0.75},{"x":10.18,"y":0.25},
{"x":11.1,"y":8.3},{"x":10.78,"y":7.7},{"x":11.2,"y":7.1},{"x":10.92,"y":6.5},{"x":11.05,"y":5.9},{"x":10.72,"y":5.4},{"x":11.12,"y":5.0},{"x":11.25,"y":4.6},{"x":10.88,"y":4.1},{"x":11.02,"y":3.6},{"x":10.82,"y":3.0},{"x":11.22,"y":2.4},{"x":10.95,"y":1.8},{"x":11.15,"y":1.2},{"x":10.75,"y":0.7},{"x":11.08,"y":0.3},
{"x":11.9,"y":7.95},{"x":12.05,"y":7.4},{"x":12.27,"y":6.85},{"x":11.8,"y":6.3},{"x":12.18,"y":5.8},{"x":11.95,"y":5.35},{"x":11.75,"y":4.95},{"x":12.08,"y":4.5},{"x":12.22,"y":4.05},{"x":11.85,"y":3.55},{"x":12.0,"y":2.95},{"x":12.15,"y":2.35},{"x":11.72,"y":1.75},{"x":12.1,"y":1.15},{"x":12.25,"y":0.65},{"x":11.88,"y":0.2},
{"x":12.8,"y":8.15},{"x":13.15,"y":7.6},{"x":12.95,"y":7.0},{"x":13.25,"y":6.4},{"x":12.75,"y":5.9},{"x":13.05,"y":5.45},{"x":13.2,"y":5.05},{"x":12.85,"y":4.6},{"x":13.1,"y":4.15},{"x":12.9,"y":3.65},{"x":13.28,"y":3.05},{"x":12.98,"y":2.45},{"x":13.12,"y":1.85},{"x":12.78,"y":1.25},{"x":13.0,"y":0.7},{"x":13.18,"y":0.3},
{"x":1.03,"y":6.7},{"x":0.83,"y":5.6},{"x":1.23,"y":4.8},{"x":0.73,"y":4.35},{"x":1.13,"y":3.3},{"x":0.93,"y":2.0},
{"x":1.88,"y":6.8},{"x":2.2,"y":5.7},{"x":1.76,"y":4.9},{"x":2.08,"y":4.4},{"x":1.97,"y":3.25},{"x":2.26,"y":1.9},
{"x":3.03,"y":6.6},{"x":2.83,"y":5.55},{"x":3.23,"y":4.75},{"x":2.73,"y":4.3},{"x":3.13,"y":3.4},{"x":2.93,"y":2.1},
{"x":3.88,"y":6.75},{"x":4.2,"y":5.65},{"x":3.76,"y":4.85},{"x":4.08,"y":4.25},{"x":3.97,"y":3.35},{"x":4.26,"y":1.95},
{"x":5.03,"y":6.55},{"x":4.83,"y":5.5},{"x":5.23,"y":4.7},{"x":4.73,"y":4.4},{"x":5.13,"y":3.2},{"x":4.93,"y":2.05},
{"x":5.88,"y":6.85},{"x":6.2,"y":5.75},{"x":5.76,"y":4.9},{"x":6.08,"y":4.3},{"x":5.97,"y":3.3},{"x":6.26,"y":1.85},
{"x":7.03,"y":6.7},{"x":6.83,"y":5.6},{"x":7.23,"y":4.8},{"x":6.73,"y":4.35},{"x":7.13,"y":3.4},{"x":6.93,"y":2.0},
{"x":7.88,"y":6.65},{"x":8.2,"y":5.55},{"x":7.76,"y":4.75},{"x":8.08,"y":4.3},{"x":7.97,"y":3.25},{"x":8.26,"y":2.1},
{"x":9.03,"y":6.75},{"x":8.83,"y":5.7},{"x":9.23,"y":4.85},{"x":8.73,"y":4.4},{"x":9.13,"y":3.35},{"x":8.93,"y":1.95},
{"x":9.88,"y":6.6},{"x":10.2,"y":5.5},{"x":9.76,"y":4.7},{"x":10.08,"y":4.25},{"x":9.97,"y":3.3},{"x":10.26,"y":2.05},
{"x":11.03,"y":6.8},{"x":10.83,"y":5.65},{"x":11.23,"y":4.9},{"x":10.73,"y":4.35},{"x":11.13,"y":3.2},{"x":10.93,"y":1.9},
{"x":11.88,"y":6.7},{"x":12.2,"y":5.6},{"x":11.76,"y":4.8},{"x":12.08,"y":4.3},{"x":11.97,"y":3.4},{"x":12.26,"y":2.0},
{"x":13.03,"y":6.85},{"x":12.83,"y":5.75},{"x":13.23,"y":4.85},{"x":12.73,"y":4.4},{"x":13.13,"y":3.3},{"x":12.93,"y":2.1}
],
"la": [{"x":1,"y":6.26},{"x":2,"y":6.26},{"x":3,"y":6.34},{"x":4,"y":6.15},{"x":5,"y":6.09},{"x":6,"y":6.05},{"x":7,"y":6.07},{"x":8,"y":6.2},{"x":9,"y":6.17},{"x":10,"y":6.17},{"x":11,"y":6.14},{"x":12,"y":6.24},{"x":13,"y":6.24},{"x":14,"y":6.2},{"x":15,"y":6.2},{"x":16,"y":6.16},{"x":17,"y":6.26},{"x":18,"y":6.2},{"x":19,"y":6.17},{"x":20,"y":6.28},{"x":21,"y":6.24}],
"lb": [{"x":1,"y":2.315},{"x":2,"y":2.34},{"x":3,"y":2.315},{"x":4,"y":2.36},{"x":5,"y":2.28},{"x":6,"y":2.315},{"x":7,"y":2.29},{"x":8,"y":2.32},{"x":9,"y":2.29},{"x":10,"y":2.32},{"x":11,"y":2.37},{"x":12,"y":2.36},{"x":13,"y":2.35}],
"lc": [{"x":1,"y":0.1466},{"x":2,"y":0.1477},{"x":3,"y":0.1477},{"x":4,"y":0.1492},{"x":5,"y":0.1492},{"x":6,"y":0.1457},{"x":7,"y":0.1451},{"x":8,"y":0.1431},{"x":9,"y":0.1415},{"x":10,"y":0.1405},{"x":11,"y":0.1446},{"x":12,"y":0.1431},{"x":13,"y":0.1436},{"x":14,"y":0.1426},{"x":15,"y":0.1457},{"x":16,"y":0.1446},{"x":17,"y":0.1436},{"x":18,"y":0.1446},{"x":19,"y":0.1441},{"x":20,"y":0.1451},{"x":21,"y":0.1472}],
"ld": [{"x":1,"y":6.42},{"x":2,"y":6.31},{"x":3,"y":6.06},{"x":4,"y":6.08},{"x":5,"y":5.9},{"x":6,"y":6.16},{"x":7,"y":6.12},{"x":8,"y":5.99},{"x":9,"y":5.99},{"x":10,"y":6.01},{"x":11,"y":6.16},{"x":12,"y":6.12},{"x":13,"y":6.33}]
},
"concat": [
 {"hconcat": [
  {"width": 433, "height": 132, "title": {"text": "(a) MNIST (Test: 99.35%)"},
   "layer": [
    {"data": {"name": "a"}, "mark": {"type": "circle", "size": 17, "opacity": 0.2, "color": "#1f77b4"},
     "encoding": {
      "x": {"field": "x", "type": "quantitative", "scale": {"domain": [0, 22], "nice": false, "zero": false}, "axis": {"values": [0, 11, 22], "title": null, "labelExpr": "datum.value < 1 ? 'Low' : datum.value > 21 ? 'High' : 'Frequency'"}},
      "y": {"field": "y", "type": "quantitative", "scale": {"domain": [0, 8.3], "nice": false}, "axis": {"values": [0, 5], "title": "Margin", "format": "d", "titlePadding": 34.5}}}},
    {"data": {"name": "la"}, "mark": {"type": "line", "color": "#1f77b4", "strokeWidth": 2.5, "point": {"filled": true, "size": 50, "color": "#1f77b4", "opacity": 1}},
     "encoding": {"x": {"field": "x", "type": "quantitative"}, "y": {"field": "y", "type": "quantitative"}}}
   ]},
  {"width": 446, "height": 132, "title": {"text": "(b) CIFAR-10 (Test: 93.03%)"},
   "layer": [
    {"data": {"name": "b"}, "mark": {"type": "circle", "size": 17, "opacity": 0.2, "color": "#1f77b4"},
     "encoding": {
      "x": {"field": "x", "type": "quantitative", "scale": {"domain": [0, 14], "nice": false, "zero": false}, "axis": {"values": [0, 7, 14], "title": null, "labelExpr": "datum.value < 1 ? 'Low' : datum.value > 13 ? 'High' : 'Frequency'"}},
      "y": {"field": "y", "type": "quantitative", "scale": {"domain": [0, 3.07], "nice": false}, "axis": {"values": [0, 2], "title": "Margin", "format": "d"}}}},
    {"data": {"name": "lb"}, "mark": {"type": "line", "color": "#1f77b4", "strokeWidth": 2.5, "point": {"filled": true, "size": 50, "color": "#1f77b4", "opacity": 1}},
     "encoding": {"x": {"field": "x", "type": "quantitative"}, "y": {"field": "y", "type": "quantitative"}}}
   ]}
 ], "spacing": 0},
 {"hconcat": [
  {"width": 433, "height": 128, "title": {"text": "(c) MNIST flipped (Test: 99.34%)"},
   "layer": [
    {"data": {"name": "c"}, "mark": {"type": "circle", "size": 17, "opacity": 0.18, "color": "#d62728"},
     "encoding": {
      "x": {"field": "x", "type": "quantitative", "scale": {"domain": [0, 22], "nice": false, "zero": false}, "axis": {"values": [0, 11, 22], "title": null, "labelExpr": "datum.value < 1 ? 'Low' : datum.value > 21 ? 'High' : 'Frequency'"}},
      "y": {"field": "y", "type": "quantitative", "scale": {"domain": [0, 0.194], "nice": false}, "axis": {"values": [0, 0.1], "title": "Margin", "format": ".1f"}}}},
    {"data": {"name": "lc"}, "mark": {"type": "line", "color": "#d62728", "strokeWidth": 2.5, "point": {"filled": true, "size": 50, "color": "#d62728", "opacity": 1}},
     "encoding": {"x": {"field": "x", "type": "quantitative"}, "y": {"field": "y", "type": "quantitative"}}}
   ]},
  {"width": 446, "height": 129, "title": {"text": "(d) CIFAR-10 flipped (Test: 91.19%)"},
   "layer": [
    {"data": {"name": "d"}, "mark": {"type": "circle", "size": 17, "opacity": 0.18, "color": "#d62728"},
     "encoding": {
      "x": {"field": "x", "type": "quantitative", "scale": {"domain": [0, 14], "nice": false, "zero": false}, "axis": {"values": [0, 7, 14], "title": null, "labelExpr": "datum.value < 1 ? 'Low' : datum.value > 13 ? 'High' : 'Frequency'"}},
      "y": {"field": "y", "type": "quantitative", "scale": {"domain": [0, 8.38], "nice": false}, "axis": {"values": [0, 5], "title": "Margin", "format": "d"}}}},
    {"data": {"name": "ld"}, "mark": {"type": "line", "color": "#d62728", "strokeWidth": 2.5, "point": {"filled": true, "size": 50, "color": "#d62728", "opacity": 1}},
     "encoding": {"x": {"field": "x", "type": "quantitative"}, "y": {"field": "y", "type": "quantitative"}}}
   ]}
 ], "spacing": 0}
],
"columns": 1,
"align": "none",
"spacing": 26
}
